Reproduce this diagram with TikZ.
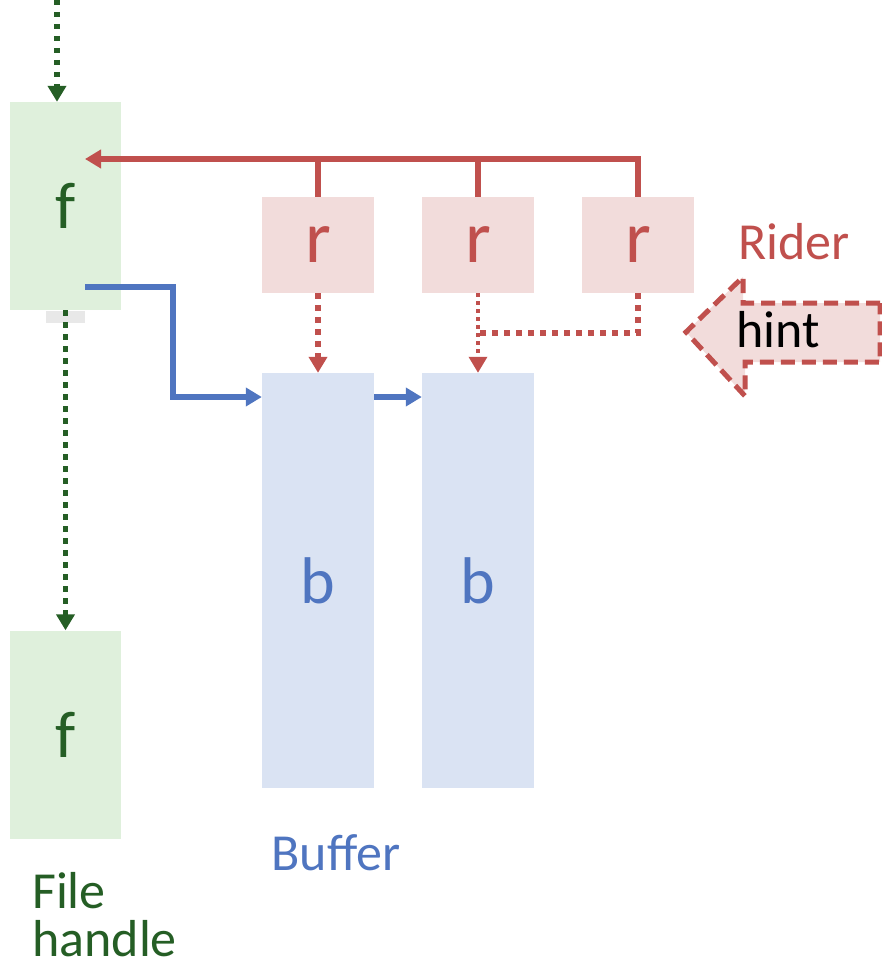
\documentclass[tikz,border=0pt]{standalone}
\usepackage{fontspec}
\setmainfont{Carlito}
\usetikzlibrary{arrows.meta}
\definecolor{rred}{HTML}{C0504D}
\definecolor{rpink}{HTML}{F2DCDB}
\definecolor{fgreen}{HTML}{DFF0DC}
\definecolor{dgreen}{HTML}{255E25}
\definecolor{bblue}{HTML}{4F75C0}
\definecolor{bfill}{HTML}{DAE3F3}
\definecolor{lgrey}{HTML}{E8E8E8}
\tikzset{
  fbox/.style={rectangle,fill=fgreen,draw=none,minimum width=111pt,minimum height=208pt,inner sep=0pt,text=dgreen,font=\fontsize{66}{72}\selectfont},
  rbox/.style={rectangle,fill=rpink,draw=none,minimum width=112pt,minimum height=96pt,inner sep=0pt,text=rred,font=\fontsize{74}{80}\selectfont},
  bbox/.style={rectangle,fill=bfill,draw=none,minimum width=112pt,minimum height=415pt,inner sep=0pt,text=bblue,font=\fontsize{66}{72}\selectfont},
  lab/.style={font=\fontsize{52}{58}\selectfont,inner sep=0pt},
  tip/.style={-{Triangle[width=18pt,length=16pt]}},
  gdot/.style={dgreen,line width=5.5pt,dash pattern=on 5.5pt off 6.5pt},
  rdot/.style={rred,line width=5.5pt,dash pattern=on 5.5pt off 6.5pt},
  rdotthin/.style={rred,line width=3.5pt,dash pattern=on 3.5pt off 4.5pt},
  rsolid/.style={rred,line width=5.5pt},
  bsolid/.style={bblue,line width=5.5pt},
}
\begin{document}
\begin{tikzpicture}[x=1pt,y=-1pt]
\useasboundingbox (0,0) rectangle (882,965);
% boxes
\node[fbox] (f1) at (65.5,206) {f};
\node[rectangle,fill=lgrey,minimum width=39pt,minimum height=12pt,inner sep=0pt] (grey) at (65.5,317) {};
\node[fbox] (f2) at (65.5,734.5) {f};
\node[rbox] (r1) at (318,245) {r};
\node[rbox] (r2) at (478,245) {r};
\node[rbox] (r3) at (638,245) {r};
\node[bbox] (b1) at (318,580.5) {b};
\node[bbox] (b2) at (478,580.5) {b};
% labels
\node[lab,text=rred] (rider) at (794,242) {Rider};
\node[lab,text=bblue] (buffer) at (336,853) {Buffer};
\node[lab,text=dgreen,anchor=north west,align=left] (fh) at (32,872) {File\\[-10pt]handle};
% hint arrow
\draw[rred,line width=5pt,dash pattern=on 14pt off 7pt,fill=rpink]
  (880,303) -- (743,303) -- (743,277) -- (686,332) -- (745,396) -- (745,362) -- (880,362) -- cycle;
\node[lab,text=black] (hint) at (778,330) {hint};
% green connectors
\coordinate (topin) at (57,0);
\draw[gdot,tip] (topin) -- (topin |- f1.north);
\draw[gdot,tip] (f1.south) -- (f2.north);
% red bus
\coordinate (fin) at (85,159);
\draw[rsolid,tip] (r3.north) |- (fin);
\draw[rsolid] (r1.north) -- (r1.north |- fin);
\draw[rsolid] (r2.north) -- (r2.north |- fin);
% red dotted
\draw[rdot,tip] (r1.south) -- (b1.north);
\draw[rdotthin,tip] (r2.south) -- (b2.north);
\coordinate (join) at (478,333);
\draw[rdot] (r3.south) |- (join);
% blue
\coordinate (fout) at (85,287);
\draw[bsolid,tip] (fout) -- (173,287) |- (b1.west |- 0,397);
\draw[bsolid,tip] (b1.east |- 0,397) -- (b2.west |- 0,397);
\end{tikzpicture}
\end{document}
